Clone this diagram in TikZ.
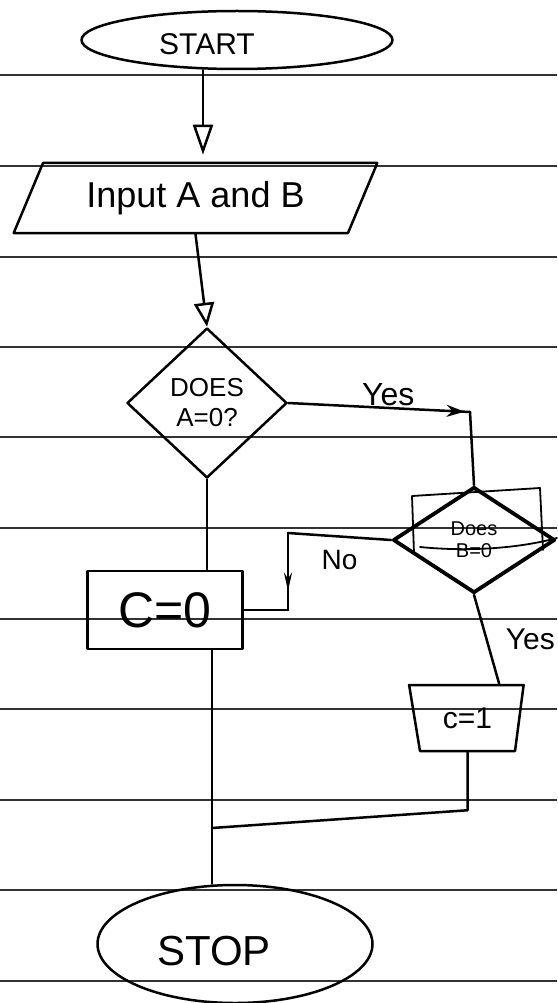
\documentclass[tikz,border=0pt]{standalone}
\usepackage{fontspec}
\setmainfont{Liberation Sans}
\usetikzlibrary{shapes.geometric,arrows.meta,calc,decorations.markings}
\begin{document}
\begin{tikzpicture}[x=1pt,y=-1pt,
  ink/.style={draw=black,line width=2.5pt,line cap=round,line join=round},
  rule/.style={draw=black!80,line width=1.2pt},
  fs/.style={font=\fontsize{#1}{#1}\selectfont},
  lbl/.style={inner sep=0pt},
  term/.style={ink,ellipse,inner sep=0pt},
  iobox/.style={ink,trapezium,trapezium stretches=true,inner sep=0pt},
  decision/.style={ink,diamond,inner sep=0pt,align=center},
  procbox/.style={ink,rectangle,inner sep=0pt},
  openhead/.style={-{Triangle[open,length=#1,width=20pt]}},
  midarrow/.style={postaction={decorate},decoration={markings,mark=at position #1 with {\arrow{Stealth[length=18pt,width=12pt]}}}},
  thinarrow/.style={postaction={decorate},decoration={markings,mark=at position #1 with {\arrow{Stealth[length=18pt,width=8pt]}}}},
]
\useasboundingbox (0,0) rectangle (557,1003);
% ruled paper
\foreach \yy in {75,166,257,347,437,528,619,709,800,890,981}
  \draw[rule] (0,\yy) -- (557,\yy);

% nodes
\node[term,minimum width=311pt,minimum height=58pt] (start) at (237,40) {};
\node[lbl,fs=30] (starttext) at (207,44) {START};
\node[iobox,trapezium left angle=58,trapezium right angle=122,minimum width=365pt,minimum height=70pt,fs=36] (input) at (195.5,198) {Input A and B};
\node[decision,minimum width=160pt,minimum height=150pt,font=\fontsize{26}{30}\selectfont] (d1) at (207,403) {DOES\\A=0?};
\node[decision,line width=3.8pt,minimum width=162pt,minimum height=106pt,font=\fontsize{20}{22}\selectfont] (d2) at (474,540) {Does\\B=0};
\node[procbox,minimum width=155pt,minimum height=78pt,fs=50] (c0) at (165,610) {C=0};
\node[iobox,trapezium left angle=105,trapezium right angle=102,minimum width=115pt,minimum height=66pt,fs=30] (c1) at (467.5,718) {c=1};
\node[term,minimum width=275pt,minimum height=118pt] (stop) at (235,944) {};
\node[lbl,fs=42] (stoptext) at (214,951) {STOP};

% sketchy overlay on second decision
\draw[ink,line width=1.8pt] (414,553) -- (412,496) -- (540,488) -- (543,550);
\draw[ink,line width=1.8pt] (420,547) .. controls (470,552) and (520,548) .. (557,538);

% helper coordinates
\coordinate (a1) at (203,0);
\coordinate (ycorner) at (470,412);
\coordinate (ncorner) at (288,533);
\coordinate (join) at (212,828);

% connectors
\draw[ink,openhead=30pt] (start.south -| a1) -- ($(input.north -| a1)+(0,-7)$);
\draw[ink,openhead=24pt] (input.south) -- (d1.north);
\draw[ink,midarrow=0.97] (d1.east) -- node[lbl,fs=32,above=1pt,pos=0.55] (yes1) {Yes} (ycorner);
\draw[ink] (ycorner) -- (d2.north);
\draw[ink] (d2.west) -- node[lbl,fs=28,below=12pt] (no) {No} (ncorner);
\draw[ink,thinarrow=0.75] (ncorner) -- (ncorner |- c0.east);
\draw[ink] (ncorner |- c0.east) -- (c0.east);
\draw[ink] (d1.south) -- (d1.south |- c0.north);
\draw[ink] (c0.south -| join) -- (join) -- (join |- stop.north);
\draw[ink] (d2.south) -- node[lbl,fs=30,right=18pt] (yes2) {Yes} ($(c1.north)!0.55!(c1.top right corner)$);
\draw[ink] (c1.south) -- ++(0,58) -- (join);
\end{tikzpicture}
\end{document}
